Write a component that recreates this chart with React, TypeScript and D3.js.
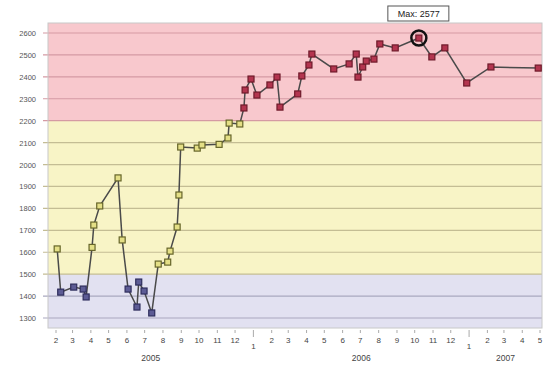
import React from "react";
import * as d3 from "d3";

const dates = [
  "2005-02-03", "2005-02-09", "2005-03-03", "2005-03-19", "2005-03-24", "2005-04-03", "2005-04-06",
  "2005-04-16", "2005-05-17", "2005-05-24", "2005-06-03", "2005-06-18", "2005-06-21", "2005-06-30",
  "2005-07-13", "2005-07-24", "2005-08-09", "2005-08-13", "2005-08-25", "2005-08-28", "2005-08-31",
  "2005-09-28", "2005-10-06", "2005-11-04", "2005-11-19", "2005-11-21", "2005-12-09", "2005-12-16",
  "2005-12-18", "2005-12-28", "2006-01-07", "2006-01-29", "2006-02-10", "2006-02-15", "2006-03-17",
  "2006-03-24", "2006-04-05", "2006-04-10", "2006-05-17", "2006-06-12", "2006-06-24", "2006-06-27",
  "2006-07-05", "2006-07-11", "2006-07-24", "2006-08-03", "2006-08-29", "2006-10-08", "2006-10-30",
  "2006-11-21", "2006-12-28", "2007-02-07", "2007-04-28",
];
const values = [
  1615, 1418, 1441, 1432, 1396, 1622, 1724,
  1811, 1939, 1656, 1432, 1350, 1464, 1423,
  1323, 1546, 1555, 1605, 1715, 1861, 2080,
  2075, 2089, 2092, 2121, 2189, 2185, 2258,
  2340, 2390, 2317, 2363, 2399, 2262, 2322,
  2404, 2454, 2504, 2436, 2459, 2504, 2399,
  2445, 2472, 2481, 2550, 2532, 2577, 2491,
  2532, 2372, 2445, 2440,
];
const yTicks = [1300, 1400, 1500, 1600, 1700, 1800, 1900, 2000, 2100, 2200, 2300, 2400, 2500, 2600];
const bandEdges = [1500, 2200];
const bandFills = ["#e2e1f1", "#f8f4c6", "#f8c8cd"];
const markerFills = ["#5d5c95", "#e4df86", "#b3354f"];
const markerStrokes = ["#2e2d5c", "#66652a", "#6e1a2a"];
const gridColors = ["#a9a8bf", "#c4bd94", "#d59aa3"];
const maxLabel = "Max: 2577";

const W = 543;
const H = 366;
const left = 48;
const right = 542;

export default function App() {
  const parse = d3.timeParse("%Y-%m-%d");
  const pts = dates.map((d, i) => ({ date: parse(d) as Date, value: values[i] }));

  const x = d3
    .scaleTime()
    .domain([new Date(2005, 1, 1), new Date(2007, 4, 1)])
    .range([56, 540]);
  const y = d3.scaleLinear().domain([1300, 2600]).range([318, 33]);
  const top = 23;
  const bottom = 328;
  const yTop = y.invert(top);
  const yBot = y.invert(bottom);

  const bandIdx = (v: number) => (v < bandEdges[0] ? 0 : v < bandEdges[1] ? 1 : 2);

  const bandRanges = [
    [yBot, bandEdges[0]],
    [bandEdges[0], bandEdges[1]],
    [bandEdges[1], yTop],
  ];

  const line = d3
    .line<{ date: Date; value: number }>()
    .x((d) => x(d.date))
    .y((d) => y(d.value));

  const months = d3.timeMonth.range(new Date(2005, 1, 1), new Date(2007, 4, 2));
  const years = [2005, 2006, 2007];
  const xMin = x.invert(left);
  const xMax = x.invert(right);

  const maxPt = pts.reduce((a, b) => (b.value > a.value ? b : a));
  const mx = x(maxPt.date);
  const my = y(maxPt.value);

  const font = "'Liberation Sans', Arial, sans-serif";

  return (
    <svg
      width={W}
      height={H}
      style={{ position: "absolute", left: 0, top: 0, background: "#fff" }}
      fontFamily={font}
    >
      {bandRanges.map(([a, b], i) => (
        <rect key={i} x={left} y={y(b)} width={right - left} height={y(a) - y(b)} fill={bandFills[i]} />
      ))}
      {yTicks.map((t) => (
        <g key={t}>
          <line x1={left - 5} x2={right} y1={y(t)} y2={y(t)} stroke={gridColors[bandIdx(t + 1)]} strokeWidth={1.2} />
          <text x={36} y={y(t) + 3} fontSize={7.5} textAnchor="end" fill="#555">
            {t}
          </text>
        </g>
      ))}
      <rect x={left} y={top} width={right - left} height={bottom - top} fill="none" stroke="#c8c8c8" strokeWidth={1} />
      {months.map((m, i) => {
        const jan = m.getMonth() === 0;
        const xm = x(m);
        return (
          <g key={i}>
            <line x1={xm} x2={xm} y1={bottom + 2} y2={bottom + (jan ? 9 : 5)} stroke="#aaa" strokeWidth={1} />
            <text x={xm} y={jan ? 349 : 343} fontSize={8} textAnchor="middle" fill="#444">
              {m.getMonth() + 1}
            </text>
          </g>
        );
      })}
      {years.map((yr) => {
        const s = new Date(Math.max(+new Date(yr, 0, 1), +xMin));
        const e = new Date(Math.min(+new Date(yr + 1, 0, 1), +xMax));
        return (
          <text key={yr} x={(x(s) + x(e)) / 2} y={361} fontSize={8.5} textAnchor="middle" fill="#444">
            {yr}
          </text>
        );
      })}
      <path d={line(pts) || ""} fill="none" stroke="#4a4a4a" strokeWidth={1.5} />
      {pts.map((p, i) => {
        const b = bandIdx(p.value);
        return (
          <rect
            key={i}
            x={x(p.date) - 3}
            y={y(p.value) - 3}
            width={6}
            height={6}
            fill={markerFills[b]}
            stroke={markerStrokes[b]}
            strokeWidth={1.2}
          />
        );
      })}
      <circle cx={mx} cy={my} r={7.5} fill="none" stroke="#111" strokeWidth={2.5} />
      <rect x={mx - 31} y={6} width={61} height={15} fill="#fff" stroke="#555" strokeWidth={1} />
      <text x={mx} y={17} fontSize={9} textAnchor="middle" fill="#222">
        {maxLabel}
      </text>
    </svg>
  );
}
